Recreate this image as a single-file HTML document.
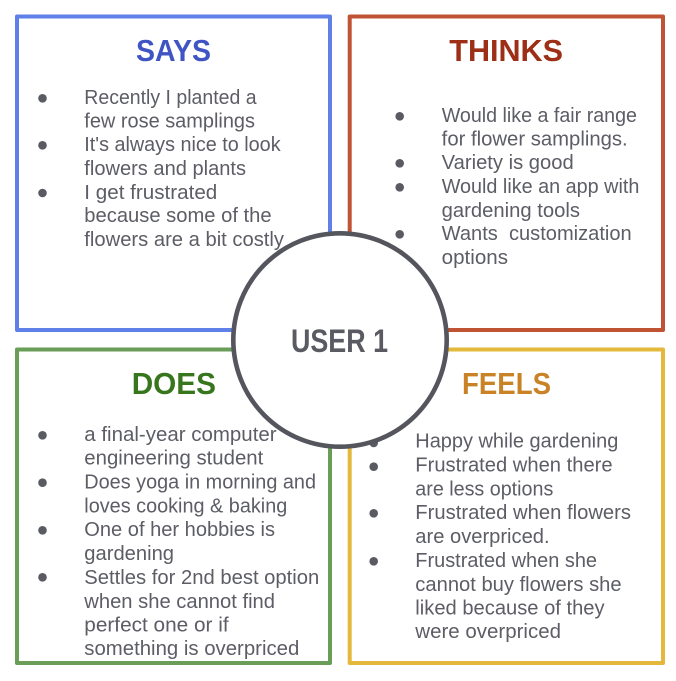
<!DOCTYPE html>
<html>
<head>
<meta charset="utf-8">
<style>
html,body{margin:0;padding:0;background:#fff;width:676px;height:681px;overflow:hidden}
svg{display:block}
text{font-family:"Liberation Sans",sans-serif;white-space:pre}
.t{font-size:20px;fill:#5c5d65}
.h{font-size:31px;font-weight:bold}
</style>
</head>
<body>
<svg width="676" height="681" viewBox="0 0 676 681" xmlns="http://www.w3.org/2000/svg">
<rect x="17" y="16.5" width="313" height="313.5" fill="#fff" stroke="#5f7fe9" stroke-width="4" stroke-linejoin="round"/>
<rect x="349.7" y="16.5" width="313.3" height="313.5" fill="#fff" stroke="#bf5333" stroke-width="4" stroke-linejoin="round"/>
<rect x="17" y="349.5" width="313" height="313.5" fill="#fff" stroke="#6a9e58" stroke-width="4" stroke-linejoin="round"/>
<rect x="349.7" y="349.5" width="313.3" height="313.5" fill="#fff" stroke="#e4b93b" stroke-width="4" stroke-linejoin="round"/>

<text class="h" x="136" y="61" fill="#3f55c4" textLength="75" lengthAdjust="spacingAndGlyphs">SAYS</text>
<text class="h" x="449.3" y="61" fill="#9c2f16" textLength="113.7" lengthAdjust="spacingAndGlyphs">THINKS</text>
<text class="h" x="131.7" y="394" fill="#38761d" textLength="84.3" lengthAdjust="spacingAndGlyphs">DOES</text>
<text class="h" x="462" y="394" fill="#c98326" textLength="89" lengthAdjust="spacingAndGlyphs">FEELS</text>

<g fill="#595a62">
<circle cx="42.5" cy="98.3" r="4.3"/><circle cx="42.5" cy="145.3" r="4.3"/><circle cx="42.5" cy="193" r="4.3"/>
<circle cx="399.7" cy="116.3" r="4.3"/><circle cx="399.7" cy="163.3" r="4.3"/><circle cx="399.7" cy="187.3" r="4.3"/><circle cx="399.7" cy="234.3" r="4.3"/>
<circle cx="42.5" cy="435.3" r="4.3"/><circle cx="42.5" cy="482.7" r="4.3"/><circle cx="42.5" cy="530.3" r="4.3"/><circle cx="42.5" cy="577.3" r="4.3"/>
<circle cx="373.7" cy="443" r="4.3"/><circle cx="373.7" cy="466.7" r="4.3"/><circle cx="373.7" cy="513.3" r="4.3"/><circle cx="373.7" cy="561.3" r="4.3"/>
</g>

<text class="t" x="84.3" y="104" textLength="172.3" lengthAdjust="spacingAndGlyphs">Recently I planted a</text>
<text class="t" x="84.3" y="127.5" textLength="170.7" lengthAdjust="spacingAndGlyphs">few rose samplings</text>
<text class="t" x="84.3" y="151" textLength="196.3" lengthAdjust="spacingAndGlyphs">It's always nice to look</text>
<text class="t" x="84.3" y="175" textLength="161.7" lengthAdjust="spacingAndGlyphs">flowers and plants</text>
<text class="t" x="84.3" y="199" textLength="133" lengthAdjust="spacingAndGlyphs">I get frustrated</text>
<text class="t" x="84.3" y="222" textLength="187.3" lengthAdjust="spacingAndGlyphs">because some of the</text>
<text class="t" x="84.3" y="246" textLength="199.7" lengthAdjust="spacingAndGlyphs">flowers are a bit costly</text>

<text class="t" x="441.7" y="122" textLength="195.3" lengthAdjust="spacingAndGlyphs">Would like a fair range</text>
<text class="t" x="441.7" y="145.5" textLength="186" lengthAdjust="spacingAndGlyphs">for flower samplings.</text>
<text class="t" x="441.7" y="169" textLength="132" lengthAdjust="spacingAndGlyphs">Variety is good</text>
<text class="t" x="441.7" y="193" textLength="197.7" lengthAdjust="spacingAndGlyphs">Would like an app with</text>
<text class="t" x="441.7" y="217" textLength="138.3" lengthAdjust="spacingAndGlyphs">gardening tools</text>
<text class="t" x="441.7" y="240" textLength="190" lengthAdjust="spacingAndGlyphs">Wants  customization</text>
<text class="t" x="441.7" y="264" textLength="66.3" lengthAdjust="spacingAndGlyphs">options</text>

<text class="t" x="84.3" y="441" textLength="192.3" lengthAdjust="spacingAndGlyphs">a final-year computer</text>
<text class="t" x="84.3" y="464.5" textLength="179" lengthAdjust="spacingAndGlyphs">engineering student</text>
<text class="t" x="84.3" y="488.3" textLength="231.7" lengthAdjust="spacingAndGlyphs">Does yoga in morning and</text>
<text class="t" x="84.3" y="512.3" textLength="203" lengthAdjust="spacingAndGlyphs">loves cooking &amp; baking</text>
<text class="t" x="84.3" y="536" textLength="190.7" lengthAdjust="spacingAndGlyphs">One of her hobbies is</text>
<text class="t" x="84.3" y="560" textLength="89.7" lengthAdjust="spacingAndGlyphs">gardening</text>
<text class="t" x="84.3" y="584" textLength="235" lengthAdjust="spacingAndGlyphs">Settles for 2nd best option</text>
<text class="t" x="84.3" y="608" textLength="190.7" lengthAdjust="spacingAndGlyphs">when she cannot find</text>
<text class="t" x="84.3" y="631.5" textLength="144.3" lengthAdjust="spacingAndGlyphs">perfect one or if</text>
<text class="t" x="84.3" y="655" textLength="215" lengthAdjust="spacingAndGlyphs">something is overpriced</text>

<text class="t" x="415.3" y="447.7" textLength="203" lengthAdjust="spacingAndGlyphs">Happy while gardening</text>
<text class="t" x="415.3" y="471.7" textLength="197.3" lengthAdjust="spacingAndGlyphs">Frustrated when there</text>
<text class="t" x="415.3" y="495.7" textLength="138" lengthAdjust="spacingAndGlyphs">are less options</text>
<text class="t" x="415.3" y="519" textLength="215.7" lengthAdjust="spacingAndGlyphs">Frustrated when flowers</text>
<text class="t" x="415.3" y="543" textLength="134.3" lengthAdjust="spacingAndGlyphs">are overpriced.</text>
<text class="t" x="415.3" y="567" textLength="181.7" lengthAdjust="spacingAndGlyphs">Frustrated when she</text>
<text class="t" x="415.3" y="591" textLength="206.3" lengthAdjust="spacingAndGlyphs">cannot buy flowers she</text>
<text class="t" x="415.3" y="614.5" textLength="189.3" lengthAdjust="spacingAndGlyphs">liked because of they</text>
<text class="t" x="415.3" y="638" textLength="145.7" lengthAdjust="spacingAndGlyphs">were overpriced</text>

<circle cx="340" cy="340" r="106.7" fill="#fff" stroke="#54555d" stroke-width="4.6"/>
<text x="291" y="352" font-size="32" font-weight="bold" fill="#595a62" textLength="97" lengthAdjust="spacingAndGlyphs">USER 1</text>
</svg>
</body>
</html>
